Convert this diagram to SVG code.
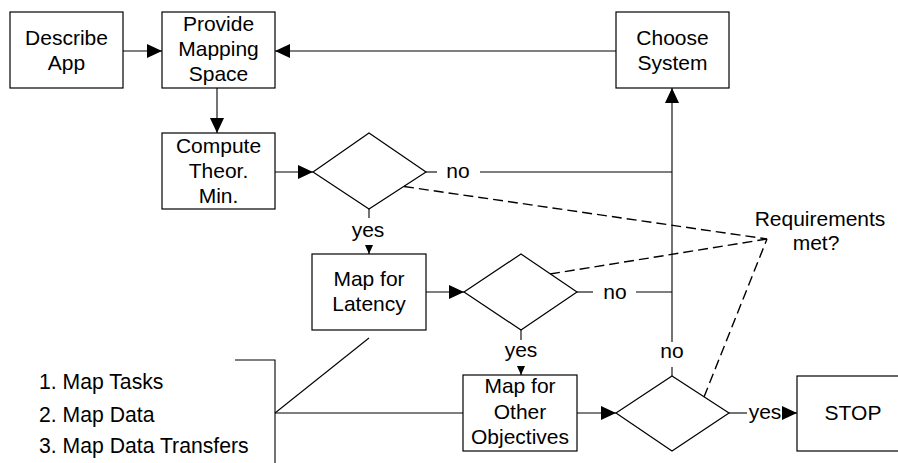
<svg xmlns="http://www.w3.org/2000/svg" width="898" height="463" viewBox="0 0 898 463">
<style>
  .box { fill: #fff; stroke: #000; stroke-width: 1.2; }
  .t { font-family: "Liberation Sans", Arial, sans-serif; font-size: 21px; fill: #000; text-anchor: middle; }
  .tl { font-family: "Liberation Sans", Arial, sans-serif; font-size: 21.2px; fill: #000; }
  .ln { fill: none; stroke: #000; stroke-width: 1.1; }
  .dash { fill: none; stroke: #000; stroke-width: 1.4; stroke-dasharray: 10,5; }
</style>
<defs>
  <marker id="arr" markerUnits="userSpaceOnUse" markerWidth="15" markerHeight="14" refX="15" refY="7" orient="auto">
    <path d="M0,0 L15,7 L0,14 z" fill="#000"/>
  </marker>
  <marker id="arrs" markerUnits="userSpaceOnUse" markerWidth="9" markerHeight="8" refX="9" refY="4" orient="auto">
    <path d="M0,0 L9,4 L0,8 z" fill="#000"/>
  </marker>
</defs>
<rect width="898" height="463" fill="#fff"/>

<g id="connectors">
  <line class="ln" x1="123" y1="51" x2="162" y2="51" marker-end="url(#arr)"/>
  <line class="ln" x1="616" y1="51" x2="275" y2="51" marker-end="url(#arr)"/>
  <line class="ln" x1="217" y1="88" x2="217" y2="133" marker-end="url(#arr)"/>
  <line class="ln" x1="275" y1="172" x2="313" y2="172" marker-end="url(#arr)"/>
  <line class="ln" x1="369" y1="209" x2="369" y2="218"/>
  <line class="ln" x1="369" y1="245" x2="369" y2="254" marker-end="url(#arrs)"/>
  <line class="ln" x1="426" y1="172" x2="437" y2="172"/>
  <line class="ln" x1="480" y1="172" x2="672" y2="172"/>
  <line class="ln" x1="672" y1="342" x2="672" y2="88" marker-end="url(#arr)"/>
  <line class="ln" x1="426" y1="292" x2="464" y2="292" marker-end="url(#arr)"/>
  <line class="ln" x1="577" y1="292" x2="593" y2="292"/>
  <line class="ln" x1="636" y1="292" x2="672" y2="292"/>
  <line class="ln" x1="521" y1="330" x2="521" y2="340"/>
  <line class="ln" x1="521" y1="366" x2="521" y2="375" marker-end="url(#arrs)"/>
  <line class="ln" x1="577" y1="413" x2="616" y2="413" marker-end="url(#arr)"/>
  <line class="ln" x1="672" y1="367" x2="672" y2="376"/>
  <line class="ln" x1="729" y1="413" x2="747" y2="413"/>
  <line class="ln" x1="783" y1="413" x2="797" y2="413" marker-end="url(#arr)"/>
  <polyline class="ln" points="235,360 275,360 275,463"/>
  <line class="ln" x1="275" y1="413" x2="463" y2="413"/>
  <line class="ln" x1="275" y1="413" x2="369" y2="338"/>
  <line class="dash" x1="404" y1="186.5" x2="767" y2="239"/>
  <line class="dash" x1="550" y1="274" x2="767" y2="239"/>
  <line class="dash" x1="704" y1="397" x2="767" y2="239"/>
  <text class="t" x="368" y="237">yes</text>
  <text class="t" x="458" y="178">no</text>
  <text class="t" x="615" y="299">no</text>
  <text class="t" x="521" y="357">yes</text>
  <text class="t" x="672" y="358">no</text>
  <text class="t" x="765" y="419">yes</text>
</g>

<g id="describe-app">
  <rect class="box" x="10" y="12" width="113" height="76"/>
  <text class="t" x="66.5" y="45">Describe</text>
  <text class="t" x="66.5" y="70">App</text>
</g>
<g id="provide-mapping-space">
  <rect class="box" x="162" y="12" width="113" height="76"/>
  <text class="t" x="218.5" y="31">Provide</text>
  <text class="t" x="218.5" y="56">Mapping</text>
  <text class="t" x="218.5" y="81">Space</text>
</g>
<g id="choose-system">
  <rect class="box" x="616" y="12" width="113" height="76"/>
  <text class="t" x="672.5" y="45">Choose</text>
  <text class="t" x="672.5" y="70">System</text>
</g>
<g id="compute-theor-min">
  <rect class="box" x="162" y="133" width="113" height="76"/>
  <text class="t" x="218.5" y="153">Compute</text>
  <text class="t" x="218.5" y="178">Theor.</text>
  <text class="t" x="218.5" y="203">Min.</text>
</g>
<g id="decision-1">
  <polygon class="box" points="313,172 369,133 426,172 369,209"/>
</g>
<g id="map-for-latency">
  <rect class="box" x="312" y="254" width="114" height="76"/>
  <text class="t" x="369" y="286">Map for</text>
  <text class="t" x="369" y="311">Latency</text>
</g>
<g id="decision-2">
  <polygon class="box" points="464,292 521,254 577,292 521,330"/>
</g>
<g id="map-for-other-objectives">
  <rect class="box" x="463" y="375" width="114" height="76"/>
  <text class="t" x="520" y="393">Map for</text>
  <text class="t" x="520" y="419">Other</text>
  <text class="t" x="520" y="444">Objectives</text>
</g>
<g id="decision-3">
  <polygon class="box" points="616,413 672,376 729,413 672,451"/>
</g>
<g id="stop">
  <rect class="box" x="797" y="376" width="113" height="75"/>
  <text class="t" x="853" y="420">STOP</text>
</g>
<g id="requirements-met">
  <text class="t" x="820" y="226">Requirements</text>
  <text class="t" x="816" y="250">met?</text>
</g>
<g id="steps-list">
  <text class="tl" x="39" y="389">1. Map Tasks</text>
  <text class="tl" x="39" y="422">2. Map Data</text>
  <text class="tl" x="39" y="453">3. Map Data Transfers</text>
</g>
</svg>
